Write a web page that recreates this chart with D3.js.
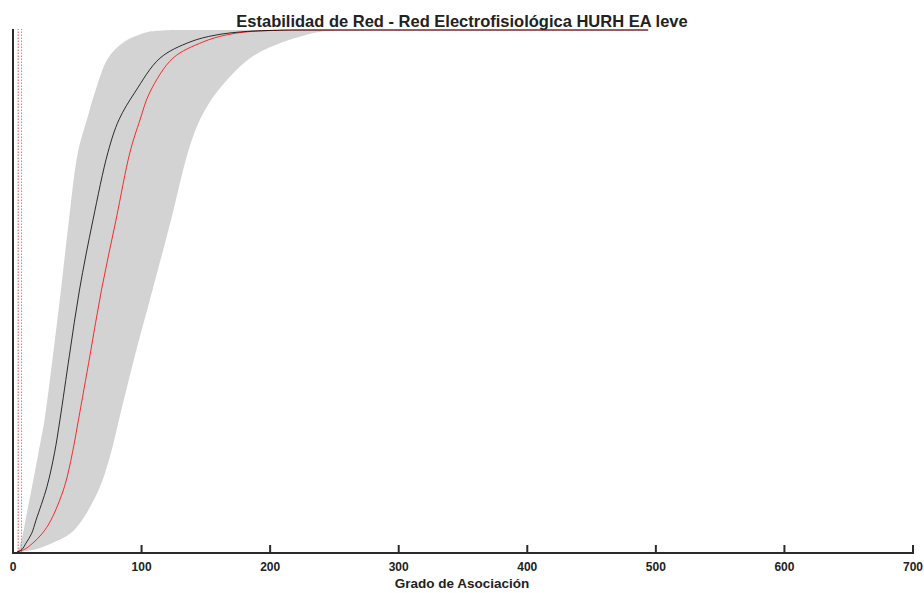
<!DOCTYPE html>
<html>
<head>
<meta charset="utf-8">
<script src="https://cdn.jsdelivr.net/npm/d3@7"></script>
<style>
  body { margin: 0; background: #fff; }
  text { font-family: "Liberation Sans", Arial, sans-serif; font-weight: bold; fill: #222; }
</style>
</head>
<body>
<svg id="svg1" width="924" height="593"></svg>
<script>
// cumulative levels (y) shared by all curves, and x at each level
const levels    = [0, 0.005, 0.017, 0.035, 0.061, 0.125, 0.19, 0.253, 0.377, 0.502, 0.636, 0.766, 0.828, 0.881, 0.946, 0.977, 0.99, 0.997, 1];
const bandLow   = [3.1, 4.3, 5.8, 7.8, 9.7, 14.8, 19.8, 24.5, 31.1, 37.3, 43.5, 50.5, 57.5, 63.8, 73.9, 86.3, 97.2, 106.5, 126];
const bandHigh  = [3.1, 17.1, 30.3, 44.3, 53.7, 67.7, 76.2, 82.4, 94.9, 108.5, 122.9, 136.1, 145.4, 158.6, 184.3, 210, 227.1, 240.3, 258.2];
const meanRand  = [3.1, 7.0, 10.1, 14.4, 17.9, 26.4, 32.3, 36.5, 43.9, 51.7, 62.2, 73.9, 82.4, 94.9, 114.3, 137.6, 157.1, 180.4, 215.4];
const observed  = [3.1, 8.9, 15.4, 22.6, 29.5, 40, 46.2, 50.9, 59.9, 68.8, 80.1, 91, 98.8, 106.5, 124.4, 147.7, 164.9, 184.3, 219.3];
const tailEnd = 494;
const refLines = [{ x: 4, color: "#ff4444" }, { x: 6.6, color: "#999" }];
const xTicks = [0, 100, 200, 300, 400, 500, 600, 700];

const svg = d3.select("svg#svg1");
const x0 = 13, x1 = 913, yBottom = 552, yTop = 30;

const x = d3.scaleLinear().domain([0, 700]).range([x0, x1]);
const y = d3.scaleLinear().domain([0, 1]).range([yBottom, yTop]);

const chart = svg.append("g");
const curve = d3.curveCatmullRom.alpha(0.5);

// band
const band = levels.map((l, i) => ({ y: l, lo: bandLow[i], hi: bandHigh[i] }));
chart.append("path")
    .datum(band)
    .attr("d", d3.area().curve(curve)
        .y(d => y(d.y)).x0(d => x(d.lo)).x1(d => x(d.hi)))
    .style("fill", "#d3d3d3");

// reference dotted lines
chart.selectAll("line.ref").data(refLines).join("line")
    .attr("class", "ref")
    .attr("x1", d => x(d.x)).attr("x2", d => x(d.x))
    .attr("y1", y(0)).attr("y2", y(1) - 1)
    .style("stroke", d => d.color)
    .style("stroke-width", 1)
    .style("stroke-dasharray", "1.5,1.5");

const lineGen = d3.line().curve(curve).x(d => x(d[0])).y(d => y(d[1]));
const series = [
    { xs: observed, color: "#ff0000" },
    { xs: meanRand, color: "#000" }
];
series.forEach(s => {
    const pts = levels.map((l, i) => [s.xs[i], l]);
    chart.append("path")
        .attr("d", lineGen(pts))
        .style("fill", "none")
        .style("stroke", s.color)
        .style("stroke-width", 0.8);
    chart.append("line")
        .attr("x1", x(s.xs[s.xs.length - 1])).attr("x2", x(tailEnd))
        .attr("y1", y(1)).attr("y2", y(1))
        .style("stroke", s.color)
        .style("stroke-width", 0.8);
});

// axes
const axes = svg.append("g").style("stroke", "#2a2a2a").style("stroke-width", 2);
axes.append("line").attr("x1", x0).attr("x2", x0).attr("y1", yBottom + 2).attr("y2", 29);
axes.append("line").attr("x1", x0 - 1).attr("x2", x1 + 1).attr("y1", yBottom + 1).attr("y2", yBottom + 1);
axes.selectAll("line.tick").data(xTicks).join("line")
    .attr("class", "tick")
    .attr("x1", d => x(d)).attr("x2", d => x(d))
    .attr("y1", yBottom + 1).attr("y2", yBottom - 7);

svg.selectAll("text.tick").data(xTicks).join("text")
    .attr("class", "tick")
    .attr("x", d => x(d)).attr("y", 571)
    .attr("text-anchor", "middle")
    .style("font-size", "12px")
    .text(d => d);

svg.append("text")
    .attr("x", 462).attr("y", 588)
    .attr("text-anchor", "middle")
    .style("font-size", "13.5px")
    .text("Grado de Asociación");

svg.append("text")
    .attr("x", 462).attr("y", 27)
    .attr("text-anchor", "middle")
    .style("font-size", "16.5px")
    .text("Estabilidad de Red - Red Electrofisiológica HURH EA leve");
</script>
</body>
</html>
